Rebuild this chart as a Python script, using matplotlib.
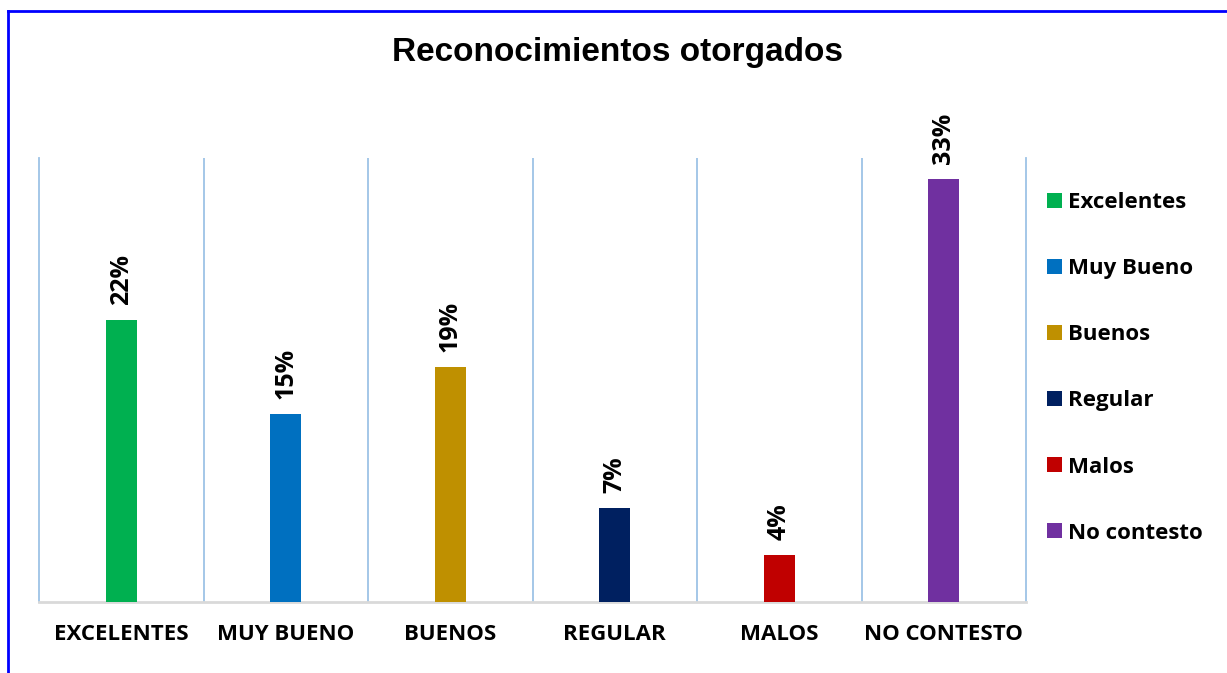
import matplotlib
matplotlib.use("Agg")
import matplotlib.pyplot as plt
from matplotlib.lines import Line2D

categories = ["EXCELENTES", "MUY BUENO", "BUENOS", "REGULAR", "MALOS", "NO CONTESTO"]
legend_labels = ["Excelentes", "Muy Bueno", "Buenos", "Regular", "Malos", "No contesto"]
values = [22.22, 14.81, 18.52, 7.41, 3.70, 33.33]
colors = ["#00B050", "#0070C0", "#BF9000", "#002060", "#C00000", "#7030A0"]

plt.rcParams['font.family'] = ['Open Sans', 'DejaVu Sans']

fig = plt.figure(figsize=(12.27, 6.73), dpi=100)
ax = fig.add_axes([39/1227, 71/673, 987/1227, 444/673])

x = list(range(len(categories)))
for i in x:
    ax.bar(i, values[i], width=0.19, color=colors[i], label=legend_labels[i], zorder=3)
    ax.annotate(f"{values[i]:.0f}%", (i, values[i]), xytext=(0, 11), textcoords='offset points',
                rotation=90, ha='center', va='bottom', fontsize=18, fontweight='bold')

ax.set_xlim(-0.5, len(categories) - 0.5)
ax.set_ylim(0, 35)
ax.set_yticks([])
ax.set_xticks(x)
ax.set_xticklabels(categories, fontsize=16, fontweight='bold')
ax.tick_params(axis='x', length=0, pad=16)

# vertical separators between categories
for b in range(1, len(categories)):
    ax.axvline(b - 0.5, color='#9DC3E6', lw=1.3, zorder=1)
for side in ['left', 'right']:
    ax.spines[side].set_color('#9DC3E6')
    ax.spines[side].set_linewidth(1.3)
ax.spines['top'].set_visible(False)
ax.spines['bottom'].set_color('#D9D9D9')
ax.spines['bottom'].set_linewidth(2)

fig.text(617/1227, 1 - 52/673, "Reconocimientos otorgados", ha='center', va='center',
         fontsize=24, fontweight='bold', family='Liberation Sans')

ax.legend(loc='upper left', bbox_to_anchor=(1036/1227, 1 - 181/673), bbox_transform=fig.transFigure,
          frameon=False, prop={'size': 16, 'weight': 'bold'}, handlelength=0.65, handleheight=0.65,
          handletextpad=0.3, labelspacing=2.03, borderpad=0)

# blue frame (left and top edges)
fig.add_artist(Line2D([8/1227, 8/1227], [0, 1 - 11/673], color='#0000FF', lw=2, transform=fig.transFigure))
fig.add_artist(Line2D([8/1227, 1], [1 - 11/673, 1 - 11/673], color='#0000FF', lw=2, transform=fig.transFigure))

fig.savefig("out.png", dpi=100)
